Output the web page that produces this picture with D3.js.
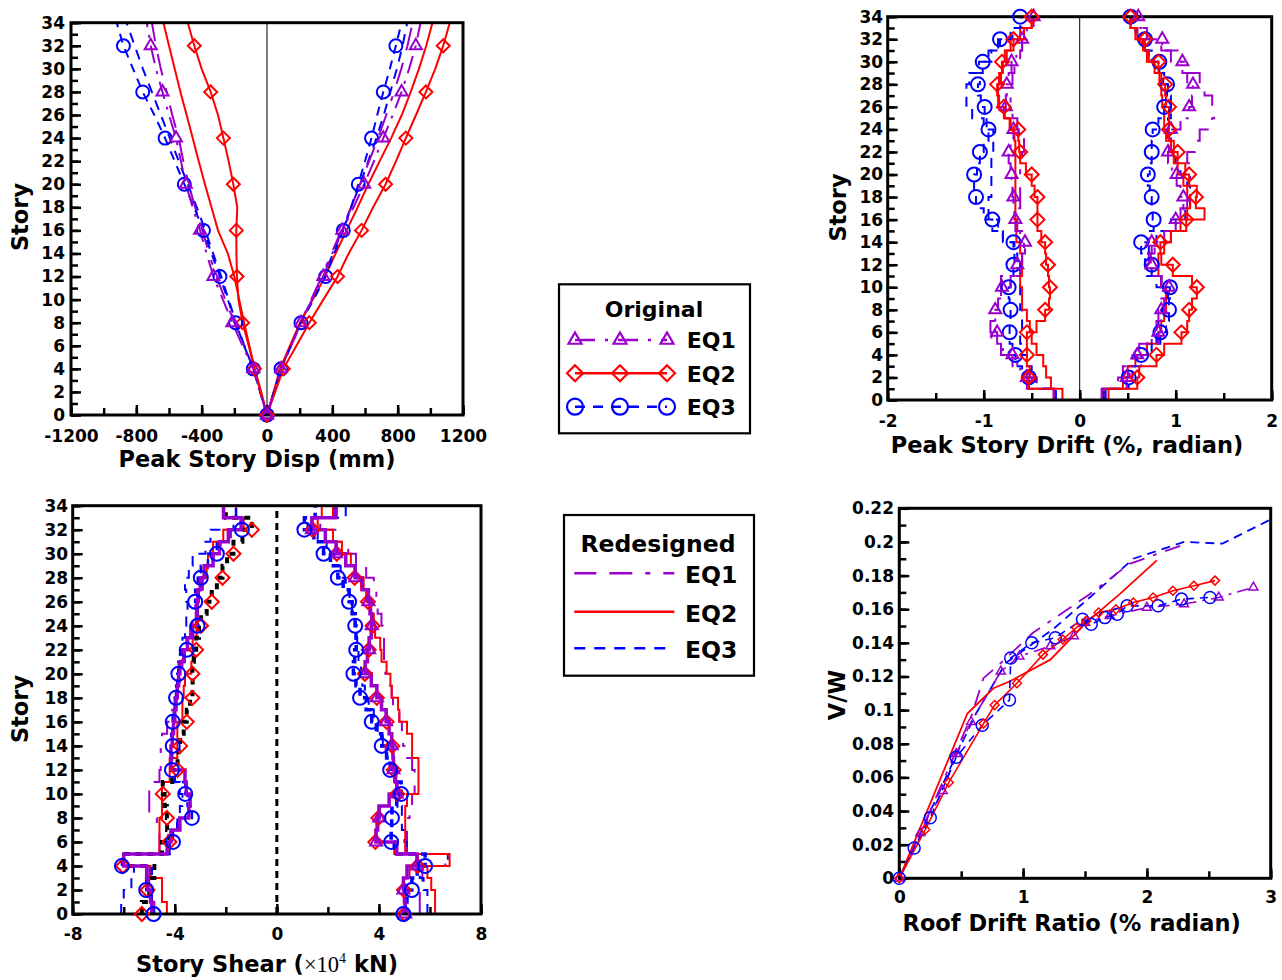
<!DOCTYPE html>
<html><head><meta charset="utf-8">
<script src="https://cdn.jsdelivr.net/npm/d3@7"></script>
<style>
body{margin:0;background:#fff;}
svg{display:block;}
</style></head><body>
<svg id="chart" width="1282" height="980"></svg>
<script>
// ================= DATA =================
// Panel 1: peak story displacement (mm) at stories
const dispStories = [0,2,4,6,8,10,12,14,16,18,20,22,24,26,28,30,32,34];
const dispOrigEQ1Neg = [0,-42,-84,-150,-212,-270,-328,-370,-410,-455,-497,-527,-557,-600,-640,-680,-712,-736];
const dispOrigEQ2Neg = [0,-40,-77,-112,-149,-175,-184,-187,-188,-182,-206,-235,-267,-300,-345,-400,-445,-485];
const dispOrigEQ3Neg = [0,-42,-84,-140,-192,-240,-288,-340,-389,-447,-506,-565,-624,-690,-761,-820,-879,-920];
const dispRedEQ1Neg = [0,-40,-80,-140,-200,-255,-310,-355,-395,-440,-480,-512,-541,-580,-614,-650,-680,-705];
const dispRedEQ2Neg = [0,-35,-75,-108,-140,-170,-200,-240,-300,-340,-380,-418,-455,-492,-530,-565,-600,-634];
const dispRedEQ3Neg = [0,-42,-84,-138,-190,-235,-280,-330,-378,-430,-485,-540,-595,-650,-705,-760,-810,-860];
const dispOrigEQ1Pos = [0,43,86,148,208,275,345,400,461,530,595,655,712,770,824,870,911,940];
const dispOrigEQ2Pos = [0,50,100,180,259,345,432,500,579,650,726,790,850,912,973,1030,1079,1119];
const dispOrigEQ3Pos = [0,43,86,148,208,285,359,412,467,515,559,600,640,675,712,752,789,824];
const dispRedEQ1Pos = [0,42,84,145,205,270,335,395,455,515,570,625,680,730,778,822,860,892];
const dispRedEQ2Pos = [0,40,80,140,202,280,355,420,487,555,620,690,760,825,880,930,975,1013];
const dispRedEQ3Pos = [0,42,85,145,205,275,345,405,460,515,570,620,670,715,755,795,830,858];
const dispTickLabels = [-1200,-800,-400,0,400,800,1200];
const storyTickLabels = [0,2,4,6,8,10,12,14,16,18,20,22,24,26,28,30,32,34];

// Panel 2: peak story drift (%) for stories 1..34
const driftStories = [1,2,3,4,5,6,7,8,9,10,11,12,13,14,15,16,17,18,19,20,21,22,23,24,25,26,27,28,29,30,31,32,33,34];
const driftOrigEQ1Neg = [-0.27,-0.55,-0.62,-0.70,-0.80,-0.86,-0.88,-0.88,-0.85,-0.81,-0.72,-0.65,-0.60,-0.57,-0.62,-0.67,-0.68,-0.69,-0.70,-0.71,-0.72,-0.74,-0.72,-0.69,-0.72,-0.77,-0.77,-0.76,-0.74,-0.71,-0.66,-0.60,-0.55,-0.48];
const driftOrigEQ2Neg = [-0.18,-0.53,-0.52,-0.55,-0.55,-0.55,-0.45,-0.36,-0.32,-0.31,-0.32,-0.33,-0.35,-0.36,-0.40,-0.44,-0.44,-0.44,-0.47,-0.50,-0.56,-0.62,-0.63,-0.64,-0.72,-0.79,-0.84,-0.86,-0.84,-0.81,-0.76,-0.69,-0.58,-0.50];
const driftOrigEQ3Neg = [-0.25,-0.53,-0.60,-0.67,-0.70,-0.73,-0.73,-0.72,-0.73,-0.74,-0.72,-0.69,-0.68,-0.69,-0.80,-0.91,-1.00,-1.08,-1.10,-1.10,-1.07,-1.04,-1.00,-0.95,-0.97,-0.99,-1.03,-1.06,-1.04,-1.01,-0.92,-0.83,-0.72,-0.62];
const driftRedEQ1Neg = [-0.27,-0.45,-0.55,-0.65,-0.82,-0.92,-0.93,-0.88,-0.85,-0.82,-0.82,-0.62,-0.60,-0.58,-0.60,-0.65,-0.68,-0.62,-0.62,-0.62,-0.62,-0.60,-0.58,-0.58,-0.65,-0.70,-0.72,-0.72,-0.70,-0.68,-0.62,-0.60,-0.55,-0.48];
const driftRedEQ2Neg = [-0.27,-0.30,-0.35,-0.38,-0.45,-0.50,-0.52,-0.55,-0.60,-0.60,-0.62,-0.60,-0.60,-0.62,-0.66,-0.66,-0.67,-0.67,-0.67,-0.67,-0.67,-0.67,-0.67,-0.68,-0.73,-0.78,-0.85,-0.85,-0.82,-0.80,-0.78,-0.72,-0.62,-0.50];
const driftRedEQ3Neg = [-0.25,-0.45,-0.50,-0.55,-0.60,-0.62,-0.60,-0.60,-0.62,-0.62,-0.62,-0.62,-0.65,-0.68,-0.80,-0.85,-0.95,-0.95,-0.92,-0.92,-0.92,-0.92,-0.90,-0.90,-1.00,-1.12,-1.18,-1.18,-1.15,-1.05,-0.95,-0.85,-0.70,-0.60];
const driftOrigEQ1Pos = [0.23,0.49,0.52,0.60,0.70,0.82,0.84,0.85,0.88,0.93,0.85,0.75,0.74,0.75,0.88,1.00,1.05,1.08,1.05,1.01,0.96,0.92,0.93,0.95,1.05,1.14,1.17,1.18,1.12,1.07,0.95,0.86,0.70,0.61];
const driftOrigEQ2Pos = [0.30,0.60,0.62,0.80,0.88,1.06,1.12,1.14,1.17,1.22,1.17,0.97,0.85,0.84,0.95,1.11,1.30,1.21,1.22,1.14,1.10,1.02,0.98,0.93,0.93,0.93,0.90,0.89,0.85,0.82,0.72,0.68,0.60,0.53];
const driftOrigEQ3Pos = [0.25,0.51,0.55,0.64,0.75,0.84,0.90,0.93,0.93,0.94,0.85,0.75,0.68,0.64,0.72,0.77,0.76,0.75,0.73,0.71,0.73,0.75,0.75,0.76,0.82,0.88,0.90,0.91,0.87,0.83,0.75,0.68,0.60,0.53];
const driftRedEQ1Pos = [0.23,0.40,0.45,0.55,0.62,0.75,0.80,0.82,0.85,0.88,0.85,0.75,0.72,0.78,0.88,1.00,1.08,1.12,1.15,1.15,1.15,1.12,1.20,1.25,1.38,1.40,1.38,1.30,1.25,1.12,1.02,0.85,0.70,0.62];
const driftRedEQ2Pos = [0.25,0.45,0.50,0.58,0.70,0.82,0.85,0.88,0.90,0.90,0.85,0.82,0.82,0.88,0.95,1.05,1.12,1.15,1.12,1.08,1.02,0.98,0.95,0.90,0.88,0.88,0.86,0.85,0.83,0.78,0.70,0.66,0.58,0.53];
const driftRedEQ3Pos = [0.27,0.45,0.50,0.60,0.70,0.80,0.82,0.85,0.88,0.92,0.80,0.70,0.68,0.72,0.80,0.95,1.10,1.15,1.15,1.12,1.05,1.00,0.95,0.92,0.92,0.95,0.95,0.92,0.88,0.82,0.72,0.66,0.58,0.53];
const driftTickLabels = [-2,-1,0,1,2];

// Panel 3: story shear (x10^4 kN), floors 0..33 (segment from floor to floor+1)
const shearStories = [0,1,2,3,4,5,6,7,8,9,10,11,12,13,14,15,16,17,18,19,20,21,22,23,24,25,26,27,28,29,30,31,32,33];
const shearOrigEQ1Neg = [-4.9,-4.95,-5.05,-5.1,-6.0,-4.3,-4.15,-3.8,-3.45,-3.4,-3.55,-3.6,-4.15,-4.15,-4.1,-4.05,-4.0,-3.95,-3.9,-3.85,-3.8,-3.65,-3.5,-3.3,-3.15,-3.12,-3.1,-3.0,-2.85,-2.5,-2.25,-1.9,-1.4,-2.09];
const shearOrigEQ2Neg = [-5.29,-5.0,-5.07,-4.8,-6.03,-4.5,-4.21,-4.3,-4.31,-4.4,-4.47,-4.1,-3.89,-3.85,-3.79,-3.65,-3.53,-3.4,-3.31,-3.3,-3.31,-3.25,-3.16,-3.05,-2.97,-2.75,-2.55,-2.35,-2.13,-1.95,-1.70,-1.35,-0.98,-2.0];
const shearOrigEQ3Neg = [-4.83,-4.9,-5.12,-4.9,-6.07,-4.2,-4.07,-3.9,-3.33,-3.5,-3.59,-4.0,-4.11,-4.1,-4.08,-4.08,-4.08,-4.0,-3.95,-3.9,-3.86,-3.7,-3.53,-3.3,-3.11,-3.15,-3.20,-3.1,-2.98,-2.7,-2.35,-1.9,-1.37,-1.6];
const shearRedEQ1Neg = [-4.8,-4.9,-5.0,-5.0,-6.0,-4.6,-4.6,-4.7,-5.0,-5.0,-5.0,-4.6,-4.55,-4.55,-4.5,-4.3,-4.1,-4.0,-3.9,-3.8,-3.7,-3.6,-3.5,-3.4,-3.3,-3.2,-3.1,-2.9,-2.7,-2.5,-2.2,-1.8,-1.3,-1.6];
const shearRedEQ2Neg = [-4.31,-4.5,-4.5,-4.95,-6.0,-4.6,-4.6,-4.6,-4.5,-4.5,-4.5,-4.2,-4.2,-3.9,-3.9,-3.9,-3.7,-3.7,-3.65,-3.6,-3.35,-3.3,-3.3,-3.15,-3.1,-3.1,-3.05,-3.0,-2.75,-2.7,-2.5,-2.1,-1.3,-1.6];
const shearRedEQ3Neg = [-6.1,-6.0,-5.7,-5.6,-6.0,-4.2,-4.1,-3.9,-3.8,-3.7,-3.8,-4.0,-4.15,-4.15,-4.15,-4.1,-4.05,-4.0,-3.95,-3.9,-3.85,-3.8,-3.7,-3.6,-3.55,-3.5,-3.55,-3.6,-3.45,-3.3,-2.8,-2.6,-1.7,-1.6];
const shearOrigEQ1Pos = [5.03,5.0,4.96,5.1,5.49,4.7,3.89,3.95,4.01,4.4,4.70,4.65,4.57,4.55,4.50,4.4,4.28,4.1,3.92,3.7,3.46,3.55,3.62,3.7,3.72,3.65,3.59,3.35,3.07,2.7,2.32,1.9,1.37,2.3];
const shearOrigEQ2Pos = [5.00,5.0,4.98,5.2,5.52,4.6,3.86,3.9,3.98,4.4,4.72,4.65,4.58,4.55,4.52,4.4,4.30,4.1,3.92,3.7,3.45,3.55,3.60,3.7,3.75,3.65,3.57,3.3,3.05,2.7,2.35,1.9,1.40,2.2];
const shearOrigEQ3Pos = [4.96,5.1,5.29,5.5,5.81,4.6,4.48,4.5,4.51,4.7,4.87,4.65,4.44,4.3,4.11,3.9,3.72,3.5,3.26,3.1,3.00,3.05,3.11,3.1,3.07,2.95,2.83,2.6,2.39,2.1,1.83,1.45,1.08,1.5];
const shearRedEQ1Pos = [5.6,5.6,5.7,5.7,6.6,5.1,5.1,5.1,5.2,5.3,5.4,5.4,5.3,5.0,4.95,4.9,4.8,4.55,4.5,4.45,4.25,4.2,4.2,4.15,4.1,3.95,3.9,3.8,3.5,3.1,2.8,2.4,1.7,2.35];
const shearRedEQ2Pos = [6.2,6.2,6.05,5.9,6.77,5.03,5.03,5.03,5.03,5.1,5.55,5.55,5.55,5.3,5.3,5.1,4.8,4.75,4.5,4.45,4.3,4.1,4.05,3.85,3.8,3.7,3.5,3.4,3.05,2.9,2.55,2.2,1.6,1.76];
const shearRedEQ3Pos = [5.9,5.9,5.75,5.6,6.7,5.1,5.0,4.9,4.9,4.8,4.8,4.6,4.45,4.3,4.15,3.95,3.8,3.6,3.45,3.35,3.3,3.2,3.15,3.1,3.05,2.95,2.85,2.7,2.5,2.25,1.95,1.6,1.2,2.7];
const shearTickLabels = [-8,-4,0,4,8];

// Panel 4: pushover curves, roof drift ratio (%) vs V/W
const pushOrigEQ1X = [0,0.17,0.35,0.46,0.58,0.82,0.97,1.22,1.41,1.50,1.70,2.00,2.30,2.58,2.86];
const pushOrigEQ1Y = [0,0.027,0.052,0.074,0.093,0.123,0.132,0.138,0.144,0.152,0.156,0.161,0.163,0.167,0.173];
const pushOrigEQ2X = [0,0.21,0.40,0.68,0.77,0.95,1.16,1.32,1.43,1.51,1.61,1.75,1.89,2.05,2.21,2.38,2.55];
const pushOrigEQ2Y = [0,0.029,0.057,0.092,0.103,0.116,0.133,0.142,0.149,0.153,0.158,0.160,0.164,0.167,0.171,0.174,0.177];
const pushOrigEQ3X = [0,0.12,0.25,0.46,0.67,0.89,0.90,1.07,1.26,1.48,1.55,1.66,1.76,1.84,2.09,2.28,2.51];
const pushOrigEQ3Y = [0,0.018,0.036,0.072,0.091,0.106,0.131,0.140,0.143,0.154,0.151,0.155,0.157,0.162,0.162,0.166,0.167];
const pushRedEQ1X = [0,0.16,0.58,0.68,0.82,1.08,1.54,1.86,2.32];
const pushRedEQ1Y = [0,0.025,0.096,0.119,0.128,0.146,0.169,0.187,0.199];
const pushRedEQ2X = [0,0.55,0.76,0.89,1.22,1.51,1.78,2.08];
const pushRedEQ2Y = [0,0.098,0.113,0.117,0.130,0.152,0.169,0.189];
const pushRedEQ3X = [0,0.49,0.62,0.86,1.24,1.57,1.89,2.30,2.61,2.99];
const pushRedEQ3Y = [0,0.078,0.098,0.128,0.148,0.169,0.190,0.200,0.199,0.213];
const roofTickLabels = [0,1,2,3];
const vwTickLabels = [0,0.02,0.04,0.06,0.08,0.1,0.12,0.14,0.16,0.18,0.2,0.22];

const legendSeries = ["EQ1","EQ2","EQ3"];

// ================= STYLE =================
const PURPLE = "#9900CC", RED = "#FF0000", BLUE = "#0000FF";
const FONT = "'DejaVu Sans', Verdana, sans-serif";
const ST = {
  o1: {color: PURPLE, dash: "18,8,3,8", width: 2, marker: "tri"},
  o2: {color: RED, dash: null, width: 2, marker: "dia"},
  o3: {color: BLUE, dash: "9,7", width: 2, marker: "circ"},
  r1: {color: PURPLE, dash: "22,13,23,13,5,13", width: 2},
  r2: {color: RED, dash: null, width: 2},
  r3: {color: BLUE, dash: "10,8", width: 2}
};

const svg = d3.select("#chart");

function makePanel(c) {
  const x = d3.scaleLinear().domain(c.xDomain).range([c.left, c.right]);
  const y = d3.scaleLinear().domain(c.yDomain).range([c.bottom, c.top]);
  const g = svg.append("g");
  const styleAxis = s => {
    s.select(".domain").remove();
    s.selectAll(".tick line").attr("stroke", "#000").attr("stroke-width", 2.5);
    s.attr("font-family", FONT).attr("font-size", 17).attr("font-weight", "bold");
    s.selectAll("text").attr("fill", "#000");
  };
  g.append("g").attr("transform", `translate(0,${c.bottom})`)
    .call(d3.axisBottom(x).tickValues(c.xMinor).tickSize(-7).tickFormat(() => "")).call(styleAxis);
  g.append("g").attr("transform", `translate(0,${c.bottom})`)
    .call(d3.axisBottom(x).tickValues(c.xMajor).tickSize(-10).tickPadding(c.xPad).tickFormat(c.xFmt)).call(styleAxis);
  g.append("g").attr("transform", `translate(${c.left},0)`)
    .call(d3.axisLeft(y).tickValues(c.yMinor).tickSize(-7).tickFormat(() => "")).call(styleAxis);
  g.append("g").attr("transform", `translate(${c.left},0)`)
    .call(d3.axisLeft(y).tickValues(c.yMajor).tickSize(-10).tickPadding(c.yPad).tickFormat(c.yFmt)).call(styleAxis);
  const plot = g.append("g");
  g.append("rect").attr("x", c.left).attr("y", c.top)
    .attr("width", c.right - c.left).attr("height", c.bottom - c.top)
    .attr("fill", "none").attr("stroke", "#000").attr("stroke-width", 3);
  const marks = g.append("g");
  return {x, y, plot, marks};
}

function drawPath(layer, pts, xs, ys, st, extra) {
  const p = layer.append("path")
    .attr("d", d3.line().x(d => xs(d[0])).y(d => ys(d[1]))(pts))
    .attr("fill", "none").attr("stroke", (extra && extra.color) || st.color)
    .attr("stroke-width", (extra && extra.width) || st.width)
    .attr("stroke-linejoin", "miter");
  const dash = extra && extra.dash !== undefined ? extra.dash : st.dash;
  if (dash) p.attr("stroke-dasharray", dash);
  return p;
}

function drawMarker(layer, type, cx, cy, s, color, sw) {
  let el;
  if (type === "circ") {
    el = layer.append("circle").attr("cx", cx).attr("cy", cy).attr("r", s);
  } else if (type === "dia") {
    el = layer.append("path").attr("d", `M${cx},${cy - s}L${cx + s},${cy}L${cx},${cy + s}L${cx - s},${cy}Z`);
  } else {
    const h = s * 1.732;
    el = layer.append("path").attr("d", `M${cx},${cy - h * 2 / 3}L${cx + s},${cy + h / 3}L${cx - s},${cy + h / 3}Z`);
  }
  el.attr("fill", "none").attr("stroke", color).attr("stroke-width", sw);
}

function stepPoints(vals, base) {
  const pts = [];
  vals.forEach((v, k) => { pts.push([v, base[k]]); pts.push([v, base[k] + 1]); });
  return pts;
}

function axisTitle(x, y, text, rotate, size) {
  const t = svg.append("text").attr("font-family", FONT).attr("font-weight", "bold")
    .attr("font-size", size || 22.5).attr("text-anchor", "middle").attr("fill", "#000");
  if (rotate) t.attr("transform", `translate(${x},${y}) rotate(-90)`);
  else t.attr("x", x).attr("y", y);
  t.text(text);
  return t;
}

const fmtInt = d => String(d);
const MS = {tri: 6, dia: 6.5, circ: 6.5};

// ================= PANEL 1 =================
const P1 = makePanel({left: 71, right: 463, top: 22.7, bottom: 415,
  xDomain: [-1200, 1200], yDomain: [0, 34],
  xMajor: dispTickLabels, xMinor: d3.range(-1200, 1201, 200), xPad: 14.5, xFmt: fmtInt,
  yMajor: storyTickLabels, yMinor: d3.range(0, 35, 1), yPad: 6, yFmt: fmtInt});
P1.plot.append("line").attr("x1", P1.x(0)).attr("x2", P1.x(0)).attr("y1", P1.y(0)).attr("y2", P1.y(34))
  .attr("stroke", "#000").attr("stroke-width", 1);
const dispSeries = [
  [dispRedEQ3Neg, dispRedEQ3Pos, ST.r3], [dispRedEQ1Neg, dispRedEQ1Pos, ST.r1], [dispRedEQ2Neg, dispRedEQ2Pos, ST.r2],
  [dispOrigEQ3Neg, dispOrigEQ3Pos, ST.o3], [dispOrigEQ2Neg, dispOrigEQ2Pos, ST.o2], [dispOrigEQ1Neg, dispOrigEQ1Pos, ST.o1]
];
dispSeries.forEach(([neg, pos, st]) => {
  [neg, pos].forEach(vals => {
    const pts = vals.map((v, i) => [v, dispStories[i]]);
    drawPath(P1.plot, pts, P1.x, P1.y, st);
    if (st.marker) pts.forEach(p => {
      if (p[1] % 4 === 0 && p[1] <= 32) drawMarker(P1.marks, st.marker, P1.x(p[0]), P1.y(p[1]), MS[st.marker], st.color, 2);
    });
  });
});
axisTitle(257, 467, "Peak Story Disp (mm)");
axisTitle(28, 217, "Story", true);

// ================= PANEL 2 =================
const P2 = makePanel({left: 887.7, right: 1271.7, top: 16.7, bottom: 400,
  xDomain: [-2, 2], yDomain: [0, 34],
  xMajor: driftTickLabels, xMinor: d3.range(-2, 2.01, 0.5), xPad: 14.5, xFmt: fmtInt,
  yMajor: storyTickLabels, yMinor: d3.range(0, 35, 1), yPad: 4.5, yFmt: fmtInt});
P2.plot.append("line").attr("x1", P2.x(0)).attr("x2", P2.x(0)).attr("y1", P2.y(0)).attr("y2", P2.y(34))
  .attr("stroke", "#000").attr("stroke-width", 1);
const driftBase = driftStories.map(s => s - 1);
const driftSeries = [
  [driftRedEQ3Neg, driftRedEQ3Pos, ST.r3], [driftRedEQ1Neg, driftRedEQ1Pos, ST.r1], [driftRedEQ2Neg, driftRedEQ2Pos, ST.r2],
  [driftOrigEQ3Neg, driftOrigEQ3Pos, ST.o3], [driftOrigEQ1Neg, driftOrigEQ1Pos, ST.o1], [driftOrigEQ2Neg, driftOrigEQ2Pos, ST.o2]
];
driftSeries.forEach(([neg, pos, st]) => {
  [neg, pos].forEach(vals => {
    drawPath(P2.plot, stepPoints(vals, driftBase), P2.x, P2.y, st);
    if (st.marker) vals.forEach((v, i) => {
      const s = driftStories[i];
      if (s % 2 === 0) drawMarker(P2.marks, st.marker, P2.x(v), P2.y(s), st.marker === "tri" ? 6 : 7, st.color, 2);
    });
  });
});
axisTitle(1067, 453, "Peak Story Drift (%, radian)");
axisTitle(846, 207.5, "Story", true);

// ================= PANEL 3 =================
const P3 = makePanel({left: 72.7, right: 481, top: 505.7, bottom: 914,
  xDomain: [-8, 8], yDomain: [0, 34],
  xMajor: shearTickLabels, xMinor: d3.range(-8, 8.01, 2), xPad: 14, xFmt: fmtInt,
  yMajor: storyTickLabels, yMinor: d3.range(0, 35, 1), yPad: 4.5, yFmt: fmtInt});
P3.plot.append("line").attr("x1", P3.x(0)).attr("x2", P3.x(0)).attr("y1", P3.y(0)).attr("y2", P3.y(34))
  .attr("stroke", "#000").attr("stroke-width", 3).attr("stroke-dasharray", "7,5");
// redesigned (thin)
[[shearRedEQ1Neg, ST.r1], [shearRedEQ1Pos, ST.r1], [shearRedEQ3Neg, ST.r3], [shearRedEQ3Pos, ST.r3],
 [shearRedEQ2Neg, ST.r2], [shearRedEQ2Pos, ST.r2]].forEach(([vals, st]) => {
  drawPath(P3.plot, stepPoints(vals, shearStories), P3.x, P3.y, st);
});
// original (thick)
drawPath(P3.plot, stepPoints(shearOrigEQ2Neg, shearStories), P3.x, P3.y, ST.o2, {color: "#000", width: 4, dash: "6,6"});
drawPath(P3.plot, stepPoints(shearOrigEQ2Pos, shearStories), P3.x, P3.y, ST.o2, {width: 2});
drawPath(P3.plot, stepPoints(shearOrigEQ3Neg, shearStories), P3.x, P3.y, ST.o3, {width: 2.5, dash: "8,5"});
drawPath(P3.plot, stepPoints(shearOrigEQ3Pos, shearStories), P3.x, P3.y, ST.o3, {width: 3.5, dash: "8,5"});
drawPath(P3.plot, stepPoints(shearOrigEQ1Neg, shearStories), P3.x, P3.y, ST.o1, {width: 3.5, dash: null});
drawPath(P3.plot, stepPoints(shearOrigEQ1Pos, shearStories), P3.x, P3.y, ST.o1, {width: 3.5, dash: null});
const shearMarkerSets = [
  [shearOrigEQ2Neg, ST.o2], [shearOrigEQ3Neg, ST.o3],
  [shearOrigEQ2Pos, ST.o2], [shearOrigEQ1Pos, ST.o1], [shearOrigEQ3Pos, ST.o3]
];
shearMarkerSets.forEach(([vals, st]) => {
  vals.forEach((v, i) => {
    const s = shearStories[i];
    if (s % 2 === 0) drawMarker(P3.marks, st.marker, P3.x(v), P3.y(s), st.marker === "tri" ? 6 : 7, st.color, 2);
  });
});
{
  const t = svg.append("text").attr("x", 267).attr("y", 972).attr("text-anchor", "middle")
    .attr("font-family", FONT).attr("font-weight", "bold").attr("font-size", 22.5).attr("fill", "#000");
  t.append("tspan").text("Story Shear (");
  t.append("tspan").attr("font-family", "'Liberation Serif', 'Times New Roman', serif").attr("font-weight", "normal").text("\u00D710");
  t.append("tspan").attr("font-family", "'Liberation Serif', 'Times New Roman', serif").attr("font-weight", "normal")
    .attr("font-size", 14).attr("dy", -9).text("4");
  t.append("tspan").attr("dy", 9).text(" kN)");
}
axisTitle(28, 709, "Story", true);

// ================= PANEL 4 =================
const P4 = makePanel({left: 899.3, right: 1270.7, top: 508.3, bottom: 878.3,
  xDomain: [0, 3], yDomain: [0, 0.22],
  xMajor: roofTickLabels, xMinor: d3.range(0, 3.01, 0.5), xPad: 12.3, xFmt: fmtInt,
  yMajor: vwTickLabels, yMinor: d3.range(0, 0.2201, 0.01), yPad: 5.3, yFmt: d => String(+d.toFixed(2))});
const pushSeries = [
  [pushRedEQ3X, pushRedEQ3Y, ST.r3, {width: 1.8, dash: "9,6"}],
  [pushRedEQ1X, pushRedEQ1Y, ST.r1, {width: 1.8, dash: "16,9,16,9,4,9"}],
  [pushRedEQ2X, pushRedEQ2Y, ST.r2, {width: 1.8}],
  [pushOrigEQ1X, pushOrigEQ1Y, ST.o1, {width: 1.6, dash: "12,6,3,6"}],
  [pushOrigEQ3X, pushOrigEQ3Y, ST.o3, {width: 1.6, dash: "8,6"}],
  [pushOrigEQ2X, pushOrigEQ2Y, ST.o2, {width: 1.6}]
];
pushSeries.forEach(([xs, ys, st, ex]) => {
  const pts = xs.map((v, i) => [v, ys[i]]);
  drawPath(P4.plot, pts, P4.x, P4.y, st, ex);
  if (st.marker) pts.forEach(p => {
    const s = st.marker === "circ" ? 6 : st.marker === "dia" ? 4.5 : 4.5;
    drawMarker(P4.marks, st.marker, P4.x(p[0]), P4.y(p[1]), s, st.color, 1.5);
  });
});
axisTitle(1071.7, 930.5, "Roof Drift Ratio (% radian)");
axisTitle(845, 695, "V/W", true);

// ================= LEGENDS =================
function legend(c) {
  svg.append("rect").attr("x", c.x0).attr("y", c.y0).attr("width", c.x1 - c.x0).attr("height", c.y1 - c.y0)
    .attr("fill", "#fff").attr("stroke", "#000").attr("stroke-width", 2.2);
  svg.append("text").attr("x", c.titleX).attr("y", c.titleY).attr("text-anchor", "middle")
    .attr("font-family", FONT).attr("font-weight", "bold").attr("font-size", c.fs).attr("fill", "#000").text(c.title);
  c.rows.forEach((r, i) => {
    const st = r.st;
    const ln = svg.append("line").attr("x1", c.lx0).attr("x2", c.lx1).attr("y1", r.y).attr("y2", r.y)
      .attr("stroke", st.color).attr("stroke-width", 2.5);
    const dash = r.dash !== undefined ? r.dash : st.dash;
    if (dash) ln.attr("stroke-dasharray", dash);
    if (st.marker) c.mx.forEach(mx => drawMarker(svg, st.marker, mx, r.y, st.marker === "tri" ? 6.5 : 8, st.color, 2.2));
    svg.append("text").attr("x", c.tx).attr("y", r.ty).attr("font-family", FONT).attr("font-weight", "bold")
      .attr("font-size", c.fs).attr("fill", "#000").text(legendSeries[i]);
  });
}
legend({x0: 559, y0: 284.3, x1: 750, y1: 433.3, title: "Original", titleX: 654, titleY: 316.7, fs: 22,
  lx0: 575, lx1: 667, mx: [575, 620, 667], tx: 686.7,
  rows: [{st: ST.o1, y: 340, ty: 348.3, dash: "20,10,3,10"}, {st: ST.o2, y: 373.3, ty: 381.7}, {st: ST.o3, y: 406.7, ty: 415, dash: "10,8"}]});
legend({x0: 564, y0: 515, x1: 754, y1: 675.7, title: "Redesigned", titleX: 658, titleY: 551.7, fs: 23.5,
  lx0: 574.3, lx1: 674.3, mx: [], tx: 685,
  rows: [{st: ST.r1, y: 573.3, ty: 583.3}, {st: ST.r2, y: 611.7, ty: 621.7}, {st: ST.r3, y: 648.3, ty: 658.3, dash: "11,9"}]});
</script>
</body></html>
